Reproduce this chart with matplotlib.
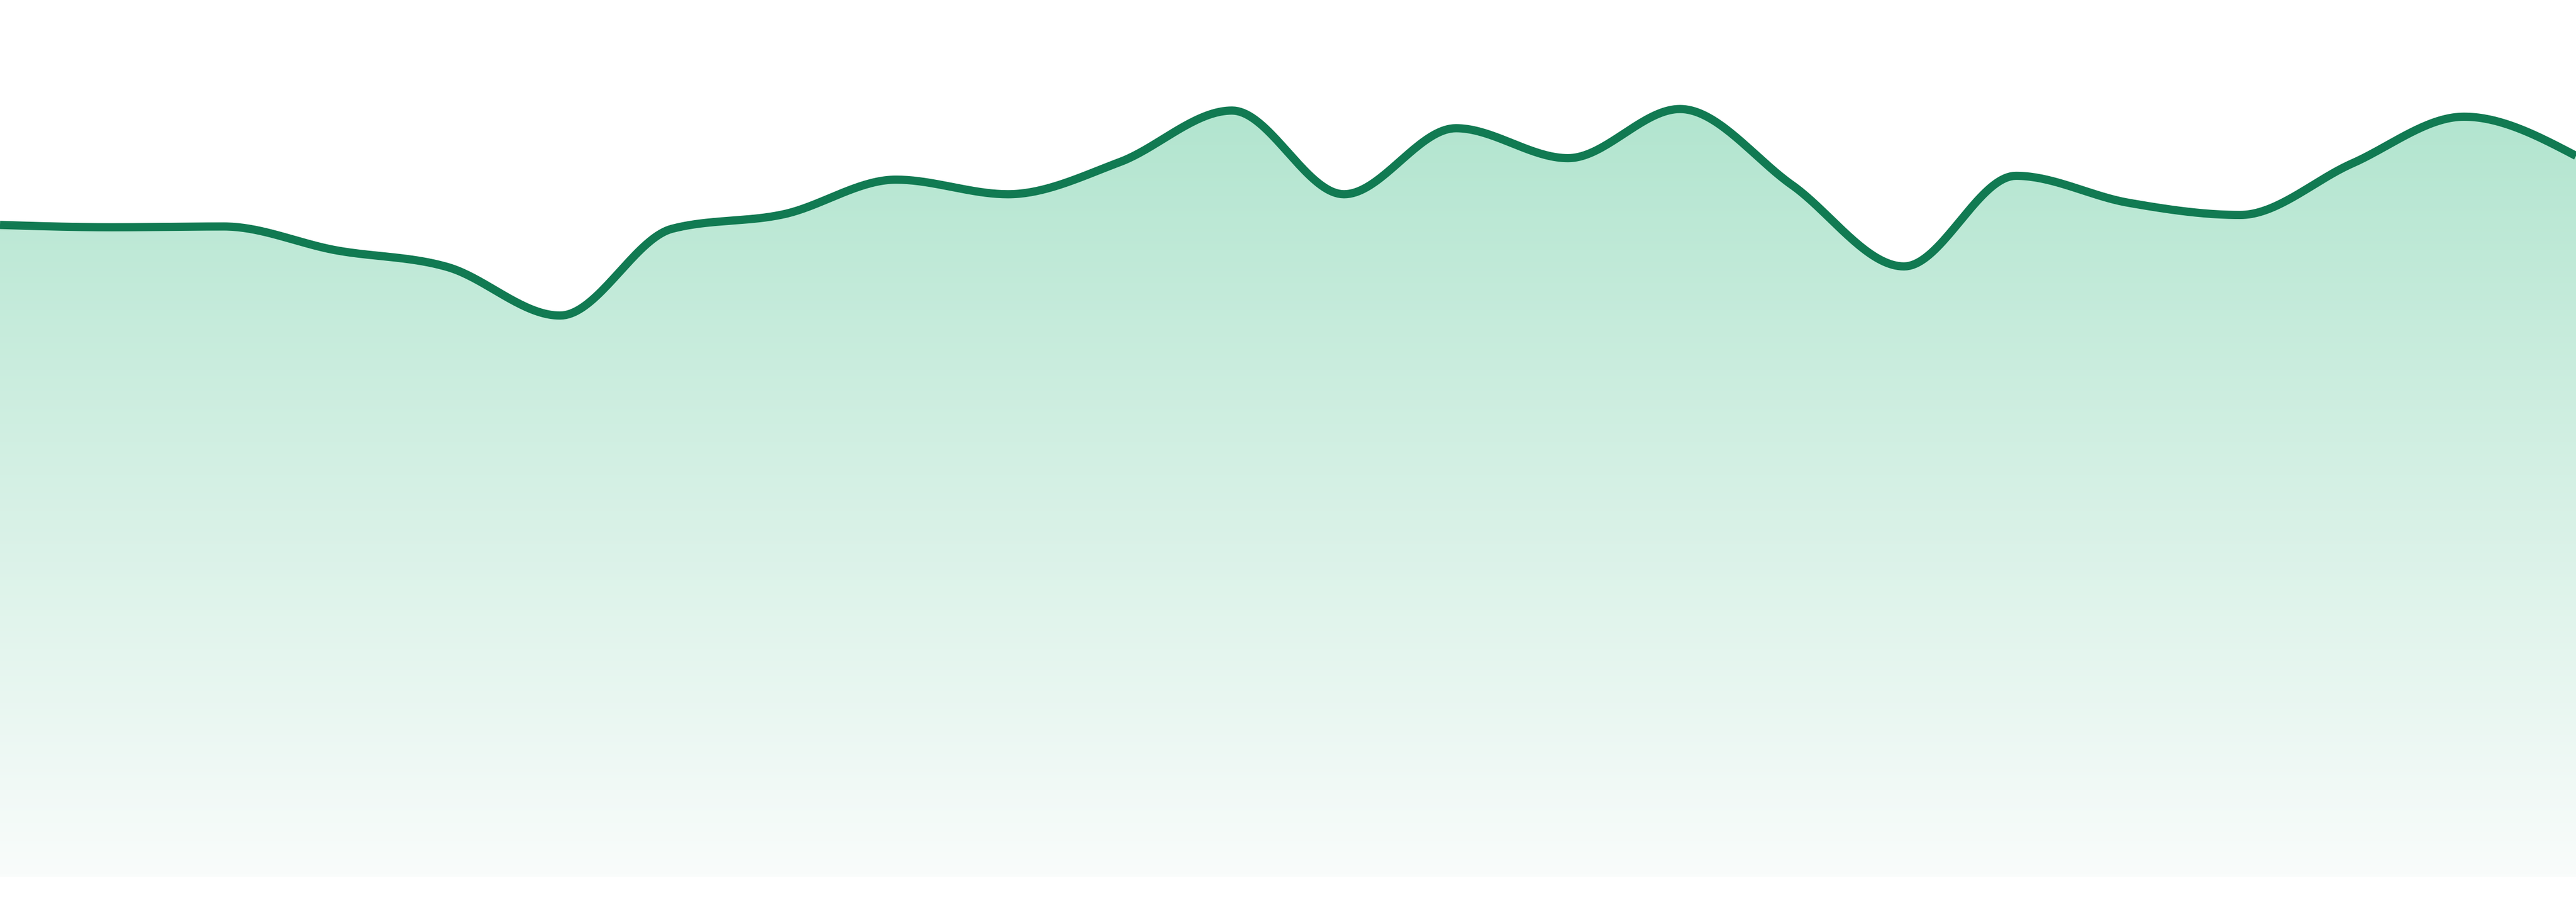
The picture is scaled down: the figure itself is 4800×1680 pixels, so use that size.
import numpy as np
import matplotlib
matplotlib.use("Agg")
import matplotlib.pyplot as plt
from matplotlib.colors import LinearSegmentedColormap

# data: 24 evenly spaced samples (arbitrary units, baseline at 0)
points = np.arange(24)
values = [84.9, 84.6, 84.7, 81.6, 79.4, 73.1, 84.4, 86.3, 90.8, 88.9, 93.1, 99.8,
          88.9, 97.5, 93.6, 100.0, 90.1, 79.5, 91.3, 87.8, 86.2, 92.9, 99.0, 93.9]

line_color = "#117a52"
fill_top = "#b2e5cf"
fill_bottom = "#f9fcfb"


def monotone_x(x, y, n=40):
    """Monotone cubic interpolation (same slopes as d3.curveMonotoneX)."""
    x = np.asarray(x, float)
    y = np.asarray(y, float)
    h = np.diff(x)
    s = np.diff(y) / h
    t = np.zeros_like(y)
    for i in range(1, len(y) - 1):
        s0, s1 = s[i - 1], s[i]
        p = (s0 * h[i] + s1 * h[i - 1]) / (h[i - 1] + h[i])
        t[i] = (np.sign(s0) + np.sign(s1)) * min(abs(s0), abs(s1), 0.5 * abs(p))
    t[0] = (3 * s[0] - t[1]) / 2
    t[-1] = (3 * s[-1] - t[-2]) / 2
    xs, ys = [], []
    for i in range(len(x) - 1):
        u = np.linspace(0, 1, n, endpoint=False)
        h00 = 2 * u**3 - 3 * u**2 + 1
        h10 = u**3 - 2 * u**2 + u
        h01 = -2 * u**3 + 3 * u**2
        h11 = u**3 - u**2
        xs.append(x[i] + u * h[i])
        ys.append(h00 * y[i] + h10 * h[i] * t[i] + h01 * y[i + 1] + h11 * h[i] * t[i + 1])
    xs.append([x[-1]])
    ys.append([y[-1]])
    return np.concatenate(xs), np.concatenate(ys)


xs, ys = monotone_x(points, values)

fig = plt.figure(figsize=(48, 16.8), dpi=100)
ax = fig.add_axes([0, 47 / 1680, 1, 1633 / 1680])
ax.axis("off")

# gradient area fill, clipped to the area under the curve
area = ax.fill_between(xs, ys, 0, color="none", lw=0)
cmap = LinearSegmentedColormap.from_list("grad", [fill_bottom, fill_top])
grad = np.linspace(0, 1, 256).reshape(-1, 1)
img = ax.imshow(grad, cmap=cmap, aspect="auto", origin="lower",
                extent=[points[0], points[-1], 0, max(values)], zorder=1)
img.set_clip_path(area.get_paths()[0], transform=ax.transData)

ax.plot(xs, ys, color=line_color, lw=11, solid_capstyle="butt", zorder=2)

# limits after imshow, which resets them
ax.set_xlim(points[0], points[-1])
ax.set_ylim(0, max(values) * 1.142)

fig.savefig("out.png", dpi=100, facecolor="white")
